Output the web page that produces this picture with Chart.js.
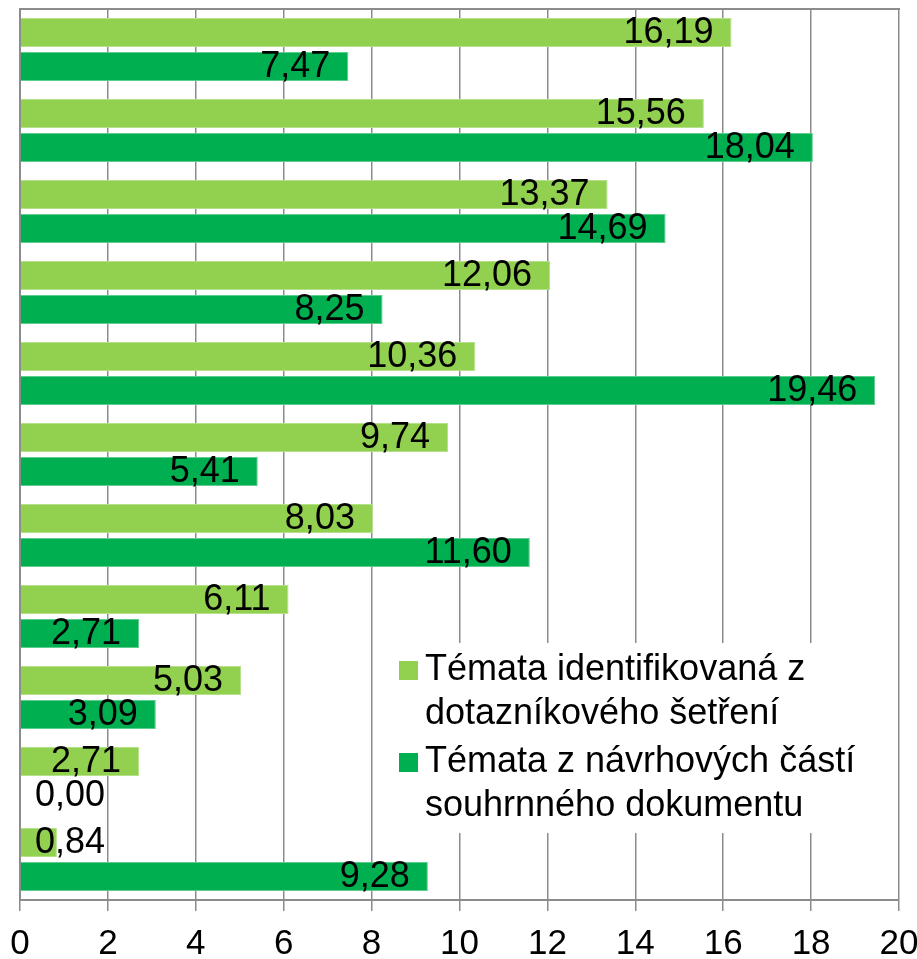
<!DOCTYPE html>
<html lang="cs">
<head>
  <meta charset="UTF-8" />
  <title>Témata</title>
  <script src="https://cdn.jsdelivr.net/npm/chart.js"></script>
  <style>
    html, body { margin: 0; padding: 0; background: #fff; }
    #wrap { width: 917px; height: 959px; }
  </style>
</head>
<body>
  <div id="wrap"><canvas id="temataChart"></canvas></div>

  <script>
    const categories = ["1", "2", "3", "4", "5", "6", "7", "8", "9", "10", "11"];
    const dotaznik = [16.19, 15.56, 13.37, 12.06, 10.36, 9.74, 8.03, 6.11, 5.03, 2.71, 0.84];
    const navrhy = [7.47, 18.04, 14.69, 8.25, 19.46, 5.41, 11.60, 2.71, 3.09, 0.00, 9.28];
    const seriesNames = [
      ["Témata identifikovaná z", "dotazníkového šetření"],
      ["Témata z návrhových částí", "souhrnného dokumentu"]
    ];
    const xTicks = [0, 2, 4, 6, 8, 10, 12, 14, 16, 18, 20];

    const FONT = "'Liberation Sans', Arial, sans-serif";
    const gridGrey = "#8c8c8c";

    // hodnoty u konce sloupců (uvnitř, čárka jako desetinný oddělovač)
    const valueLabels = {
      id: "valueLabels",
      afterDatasetsDraw(chart) {
        const ctx = chart.ctx;
        const left = chart.chartArea.left;
        ctx.save();
        ctx.font = "36px " + FONT;
        ctx.fillStyle = "#000";
        ctx.textBaseline = "middle";
        ctx.textAlign = "left";
        chart.data.datasets.forEach((ds, di) => {
          chart.getDatasetMeta(di).data.forEach((bar, i) => {
            const txt = ds.data[i].toFixed(2).replace(".", ",");
            const w = ctx.measureText(txt).width;
            let x = bar.x - 18 - w;
            if (x < left + 15) x = left + 15;
            ctx.fillText(txt, x, bar.y + 1);
          });
        });
        ctx.restore();
      }
    };

    // legenda uvnitř grafu s bílým pozadím
    const boxLegend = {
      id: "boxLegend",
      afterDatasetsDraw(chart) {
        const ctx = chart.ctx;
        const ds = chart.data.datasets;
        ctx.save();
        ctx.fillStyle = "#fff";
        ctx.fillRect(384, 643, 514, 190);
        ctx.font = "36px " + FONT;
        ctx.textBaseline = "middle";
        ctx.textAlign = "left";
        let y = 670;
        seriesNames.forEach((lines, i) => {
          ctx.fillStyle = ds[i].backgroundColor;
          ctx.fillRect(399, y - 9, 19, 19);
          ctx.fillStyle = "#000";
          lines.forEach((ln, k) => {
            ctx.fillText(ln, 425, y + k * 44);
          });
          y += 92;
        });
        ctx.restore();
      }
    };

    new Chart(document.getElementById("temataChart"), {
      type: "bar",
      data: {
        labels: categories,
        datasets: [
          {
            label: seriesNames[0].join(" "),
            data: dotaznik,
            backgroundColor: "#92D050",
            borderColor: "#b5e08a",
            borderWidth: 1,
            categoryPercentage: 0.84,
            barPercentage: 0.85
          },
          {
            label: seriesNames[1].join(" "),
            data: navrhy,
            backgroundColor: "#00B050",
            borderColor: "#5ccd8c",
            borderWidth: 1,
            categoryPercentage: 0.84,
            barPercentage: 0.85
          }
        ]
      },
      options: {
        indexAxis: "y",
        responsive: true,
        maintainAspectRatio: false,
        animation: false,
        layout: { padding: { left: 12, right: 18, top: 1, bottom: -19 } },
        plugins: {
          legend: { display: false },
          tooltip: { enabled: false }
        },
        scales: {
          x: {
            min: 0,
            max: 20,
            afterBuildTicks: axis => { axis.ticks = xTicks.map(v => ({ value: v })); },
            afterFit: axis => { axis.paddingRight = 0; axis.paddingLeft = 0; },
            grid: {
              color: gridGrey,
              lineWidth: 1.5,
              drawTicks: true,
              tickLength: 11,
              tickColor: gridGrey
            },
            border: { color: gridGrey, width: 2 },
            ticks: {
              color: "#000",
              font: { family: FONT, size: 35, lineHeight: 1 },
              padding: 16,
              maxRotation: 0
            }
          },
          xTop: {
            position: "top",
            axis: "x",
            min: 0,
            max: 20,
            grid: { display: false },
            ticks: { display: false },
            border: { color: gridGrey, width: 2 }
          },
          y: {
            grid: { display: false },
            ticks: { display: false },
            border: { color: gridGrey, width: 2 }
          }
        }
      },
      plugins: [valueLabels, boxLegend]
    });
  </script>
</body>
</html>
